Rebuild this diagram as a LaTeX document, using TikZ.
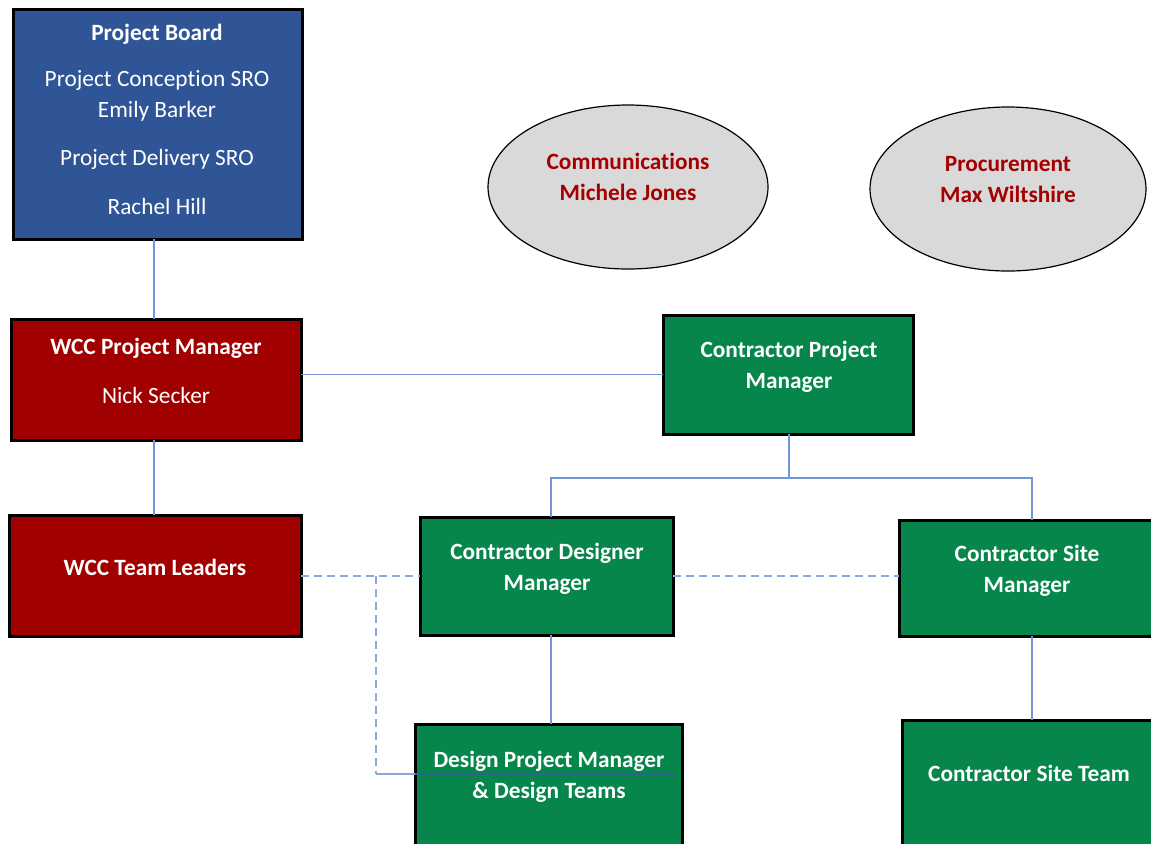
\documentclass[tikz,border=0pt]{standalone}
\usepackage{fontspec}
\setmainfont{Carlito}[Ligatures=NoCommon]
\usetikzlibrary{shapes.geometric,calc}
\definecolor{pblue}{HTML}{2F5597}
\definecolor{pred}{HTML}{A00000}
\definecolor{pgreen}{HTML}{06864B}
\definecolor{egray}{HTML}{D9D9D9}
\definecolor{etext}{HTML}{A50000}
\definecolor{lineblue}{HTML}{7396DA}
\definecolor{dashblue}{HTML}{8CA8DE}
\definecolor{overblue}{HTML}{34608F}
\begin{document}
\begin{tikzpicture}[x=0.75pt,y=-0.75pt,
  box/.style={draw=black,line width=2.25pt,inner sep=0pt,outer sep=0pt,rectangle},
  oval/.style={draw=black,line width=0.9pt,fill=egray,ellipse,inner sep=0pt,outer sep=0pt},
  wtxt/.style={text=white,align=center,font=\fontsize{17.5}{23.25}\selectfont,inner sep=0pt},
  wbold/.style={wtxt,font=\fontsize{17.5}{23.25}\selectfont\bfseries},
  rtxt/.style={text=etext,align=center,font=\fontsize{17.5}{23.25}\selectfont\bfseries,inner sep=0pt},
  conn/.style={draw=lineblue,line width=0.9pt},
  dconn/.style={draw=dashblue,line width=1.1pt,dash pattern=on 6pt off 3.75pt}]
\useasboundingbox (0,0) rectangle (1151,843);
\clip (0,0) rectangle (1151,843);
\fill[white] (0,0) rectangle (1151,843);

% boxes
\node[box,fill=pblue,minimum width=216.75pt,minimum height=172.5pt] (PB) at (157.5,124) {};
\node[box,fill=pred,minimum width=217.5pt,minimum height=90.75pt] (WPM) at (156,379.5) {};
\node[box,fill=pred,minimum width=219pt,minimum height=90.75pt] (WTL) at (155,575.5) {};
\node[box,fill=pgreen,minimum width=187.5pt,minimum height=89.25pt] (CPM) at (788,374.5) {};
\node[box,fill=pgreen,minimum width=189.75pt,minimum height=88.5pt] (CDM) at (546.5,576) {};
\node[box,fill=pgreen,minimum width=193.5pt,minimum height=87pt] (CSM) at (1028,578) {};
\node[box,fill=pgreen,minimum width=200.25pt,minimum height=132pt] (DPM) at (548.5,812) {};
\node[box,fill=pgreen,minimum width=191.25pt,minimum height=135pt] (CST) at (1029.5,810) {};

% ellipses
\node[oval,minimum width=210pt,minimum height=123pt] (COM) at (628,187) {};
\node[oval,minimum width=207pt,minimum height=123pt] (PRO) at (1008,189) {};

% texts
\node[wbold] (pb1) at (157,34) {Project Board};
\node[wtxt] (pb2) at (157,96) {Project Conception SRO\\Emily Barker};
\node[wtxt] (pb3) at (157,159.5) {Project Delivery SRO};
\node[wtxt] (pb4) at (157,206) {Rachel Hill};
\node[wbold] (wpm1) at (156,348) {WCC Project Manager};
\node[wtxt] (wpm2) at (156,395) {Nick Secker};
\node[wbold] (wtl1) at (155,567) {WCC Team Leaders};
\node[wbold] (cpm1) at (789,367) {Contractor Project\\Manager};
\node[wbold] (cdm1) at (547,569) {Contractor Designer\\Manager};
\node[wbold] (csm1) at (1027,571) {Contractor Site\\Manager};
\node[wbold] (dpm1) at (549,777) {Design Project Manager\\\& Design Teams};
\node[wbold] (cst1) at (1029,773) {Contractor Site Team};
\node[rtxt] (com1) at (628,177) {Communications\\Michele Jones};
\node[rtxt] (pro1) at (1008,180) {Procurement\\Max Wiltshire};

% solid connectors
\draw[conn] (PB.south -| 154,0) -- (WPM.north -| 154,0);
\draw[conn] (WPM.east |- CPM.west) -- (CPM.west);
\draw[conn] (WPM.south -| 154,0) -- (WTL.north -| 154,0);
\coordinate (bus) at (789,478);
\draw[conn] (CPM.south -| bus) -- (bus);
\draw[conn] (CDM.north -| 551,0) |- (bus) -| (CSM.north -| 1032,0);
\draw[conn] (CDM.south -| 551,0) -- (DPM.north -| 551,0);
\draw[conn] (CSM.south -| 1032,0) -- (CST.north -| 1032,0);

% dashed connectors
\draw[dconn] (WTL.east |- CDM.west) -- (CDM.west);
\draw[dconn] (CDM.east) -- (CDM.east -| CSM.west);
\coordinate (j1) at (376,576);
\coordinate (j2) at (376,774);
\coordinate (j3) at (676,774);
\draw[dconn] (j1) -- (j2);
\draw[draw=dashblue,line width=1.1pt] (j2) -- (DPM.west |- j2);
\draw[draw=overblue,line width=1.1pt] (DPM.west |- j2) -- (j3);
\end{tikzpicture}
\end{document}
